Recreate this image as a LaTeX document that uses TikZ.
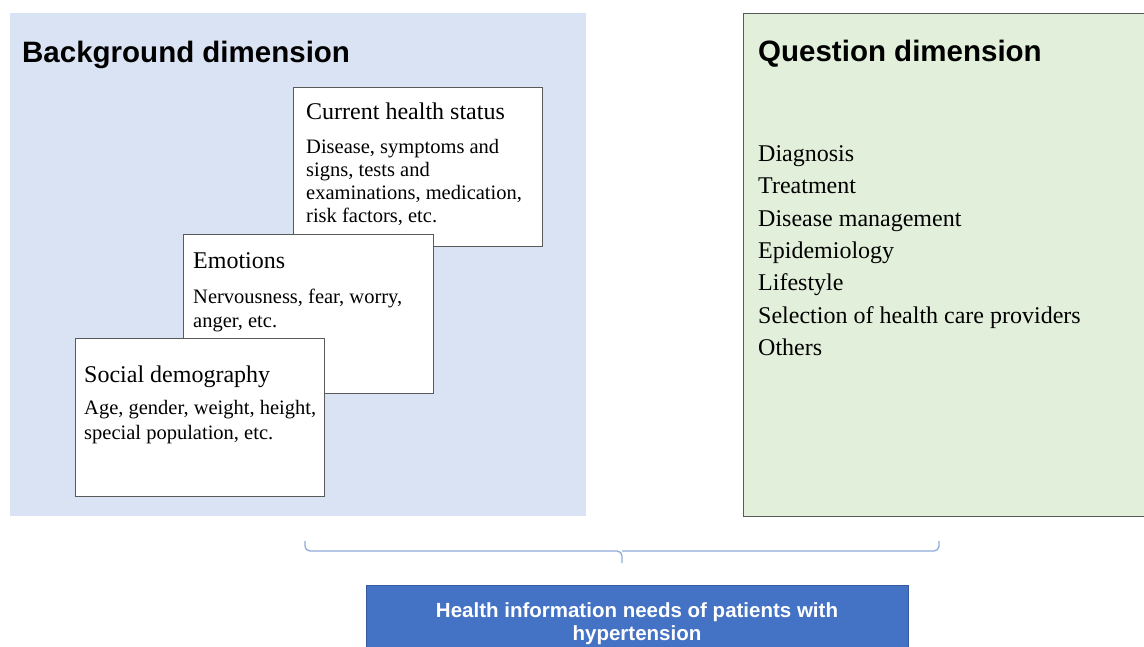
\documentclass[tikz,border=0pt]{standalone}
\usepackage{fontspec}
\setmainfont{Liberation Serif}
\setsansfont{Liberation Sans}
\definecolor{bgblue}{HTML}{DAE3F3}
\definecolor{bggreen}{HTML}{E2EFDA}
\definecolor{cardgray}{HTML}{5A5A5A}
\definecolor{needblue}{HTML}{4472C4}
\definecolor{bracecol}{HTML}{8FAADC}
\begin{document}
\begin{tikzpicture}[x=1pt,y=-1pt,
  panel/.style={inner sep=0pt, anchor=north west},
  card/.style={draw=cardgray, line width=1.3pt, fill=white, inner sep=0pt, anchor=north west},
  cardtitle/.style={font=\fontsize{24}{28}\selectfont, anchor=base west, inner sep=0pt},
  cardbody/.style={font=\fontsize{20.5}{23}\selectfont, anchor=base west, inner sep=0pt},
  head/.style={font=\sffamily\bfseries\fontsize{29.5}{34}\selectfont, anchor=base west, inner sep=0pt},
  qitem/.style={font=\fontsize{24}{28}\selectfont, anchor=base west, inner sep=0pt},
  needtext/.style={font=\sffamily\bfseries\fontsize{20.5}{23}\selectfont, text=white, anchor=base, inner sep=0pt},
  braceline/.style={draw=bracecol, line width=1.3pt, rounded corners=5pt}
]
\useasboundingbox (0,0) rectangle (1144,646);
\clip (0,0) rectangle (1144,646);
\fill[white] (0,0) rectangle (1144,646);

% background dimension panel
\node[panel, fill=bgblue, minimum width=576pt, minimum height=503pt] (bgpanel) at (10,13) {};
\node[head] (bghead) at (22,62) {Background dimension};

% current health status
\node[card, minimum width=249pt, minimum height=159pt] (chs) at (293,87) {};
\node[cardtitle] (chsT) at (306,119) {Current health status};
\node[cardbody] (chs1) at (306,153) {Disease, symptoms and};
\node[cardbody] (chs2) at (306,176) {signs, tests and};
\node[cardbody] (chs3) at (306,199) {examinations, medication,};
\node[cardbody] (chs4) at (306,222) {risk factors, etc.};

% emotions
\node[card, minimum width=250pt, minimum height=159pt] (emo) at (183,234) {};
\node[cardtitle] (emoT) at (193,268) {Emotions};
\node[cardbody] (emo1) at (193,303) {Nervousness, fear, worry,};
\node[cardbody] (emo2) at (193,327) {anger, etc.};

% social demography
\node[card, minimum width=249pt, minimum height=158pt] (soc) at (75,338) {};
\node[cardtitle] (socT) at (84,382) {Social demography};
\node[cardbody] (soc1) at (84,414) {Age, gender, weight, height,};
\node[cardbody] (soc2) at (84,439) {special population, etc.};

% question dimension panel
\node[panel, draw=cardgray, line width=1.3pt, fill=bggreen, minimum width=450pt, minimum height=503pt] (qpanel) at (743,13) {};
\node[head] (qhead) at (758,61) {Question dimension};
\foreach \t [count=\i from 0] in {Diagnosis,Treatment,Disease management,Epidemiology,Lifestyle,Selection of health care providers,Others}
  \node[qitem] (q\i) at (758,{161.5+32.3*\i}) {\t};

% brace
\coordinate (bL) at (305,541);
\coordinate (bR) at (939,541);
\coordinate (bM) at (622,551);
\coordinate (bT) at (622,563);
\draw[braceline] (bL) |- (bM) -- (bT);
\draw[braceline] (bR) |- (bM);

% health information needs
\node[panel, fill=needblue, draw=needblue!80!black, line width=0.8pt, minimum width=542pt, minimum height=90pt] (need) at (366,585) {};
\node[needtext] (need1) at (637,617) {Health information needs of patients with};
\node[needtext] (need2) at (637,640) {hypertension};
\end{tikzpicture}
\end{document}
